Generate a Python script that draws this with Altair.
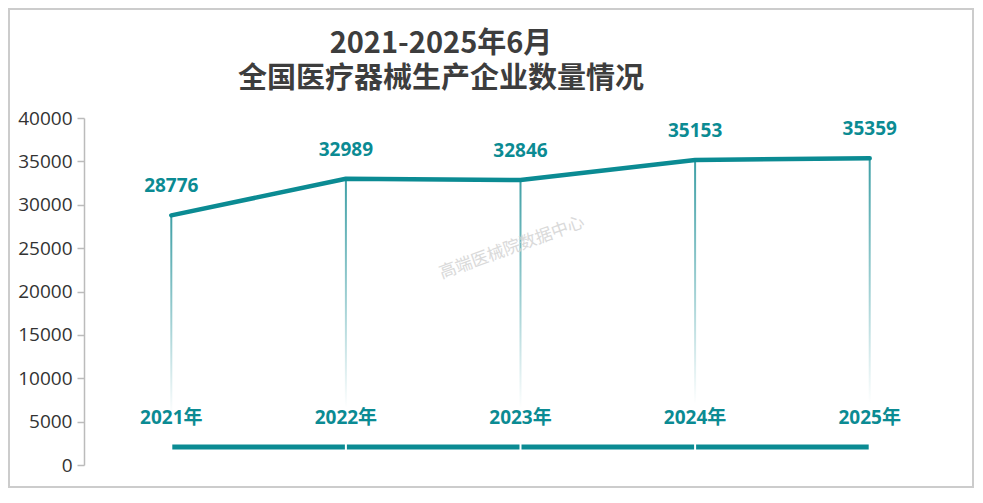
import altair as alt
import pandas as pd

years = [2021, 2022, 2023, 2024, 2025]
year_labels = ["2021年", "2022年", "2023年", "2024年", "2025年"]
counts = [28776, 32989, 32846, 35153, 35359]
title_lines = ["2021-2025年6月", "全国医疗器械生产企业数量情况"]
watermark = "高端医械院数据中心"
y_ticks = [0, 5000, 10000, 15000, 20000, 25000, 30000, 35000, 40000]
base_bar_value = 2075

TEAL = "#0b8b93"
FONT = "Open Sans, Noto Sans CJK SC, sans-serif"

df = pd.DataFrame({"year": years, "label": year_labels, "count": counts})
seg = pd.DataFrame({"year": years[:-1], "next": years[1:]})

W, H = 873, 347
PL, PT, PR, PB = 76, 110, 17, 23

xscale = alt.Scale(domain=[2020.5, 2025.5], nice=False, zero=False, padding=0)
xenc = alt.X("year:Q", axis=None, scale=xscale)
yscale = alt.Scale(domain=[0, 40000], nice=False)

base = alt.Chart(df)

border = alt.Chart(pd.DataFrame({"a": [0]})).mark_rect(
    fill="transparent", stroke="#cccccc", strokeWidth=2
).encode(
    x=alt.value(-PL + 1), x2=alt.value(W + PR - 1),
    y=alt.value(-PT + 1), y2=alt.value(H + PB - 1),
)

bottom = alt.Chart(seg).mark_rule(color=TEAL, strokeWidth=5).encode(
    x=xenc,
    x2="next:Q",
    y=alt.datum(base_bar_value, scale=yscale),
)

vbars = base.mark_bar(
    size=2,
    color=alt.LinearGradient(
        gradient="linear", x1=0, y1=0, x2=0, y2=1,
        stops=[
            alt.GradientStop(offset=0, color="#3d9fa5"),
            alt.GradientStop(offset=0.45, color="#a6d3d6"),
            alt.GradientStop(offset=0.8, color="#ffffff"),
            alt.GradientStop(offset=1, color="#ffffff"),
        ],
    ),
).encode(
    x=xenc,
    y=alt.Y("count:Q", scale=yscale, title=None,
            axis=alt.Axis(values=y_ticks, format="d", grid=False, labelFontSize=19,
                          labelColor="#333333", labelFont=FONT, labelPadding=5, tickSize=7,
                          tickColor="#bbbbbb", domainColor="#bbbbbb", domainWidth=1.5,
                          tickWidth=1.5)),
    y2=alt.datum(0),
)

line = base.mark_line(color=TEAL, strokeWidth=4.5, strokeCap="round", strokeJoin="round").encode(
    x=xenc, y=alt.Y("count:Q", scale=yscale)
)

vlabels = base.mark_text(color=TEAL, fontSize=19, fontWeight="bold", font=FONT, dy=-29).encode(
    x=xenc, y=alt.Y("count:Q", scale=yscale), text="count:Q"
)

ylabels = base.mark_text(color=TEAL, fontSize=19, fontWeight="bold", font=FONT).encode(
    x=xenc, y=alt.value(300), text="label:N"
)

title1 = alt.Chart(pd.DataFrame({"t": [title_lines[0]]})).mark_text(
    color="#3d3d3d", fontSize=29, fontWeight="bold", font="Noto Sans CJK SC", baseline="middle"
).encode(x=alt.value(357), y=alt.value(-74), text="t:N")

title2 = alt.Chart(pd.DataFrame({"t": [title_lines[1]]})).mark_text(
    color="#3d3d3d", fontSize=29, fontWeight="bold", font="Noto Sans CJK SC", baseline="middle"
).encode(x=alt.value(357), y=alt.value(-39), text="t:N")

wm = alt.Chart(pd.DataFrame({"t": [watermark]})).mark_text(
    color="#d6d6d6", fontSize=17, angle=340, font="Noto Sans CJK SC", opacity=0.9
).encode(x=alt.value(428), y=alt.value(130), text="t:N")

chart = alt.layer(border, bottom, vbars, line, vlabels, ylabels, wm, title1, title2).properties(
    width=W, height=H,
    padding={"left": PL, "top": PT, "right": PR, "bottom": PB},
    autosize=alt.AutoSizeParams(type="none"),
).configure_view(stroke=None)

chart.save("out.html", embed_options={"renderer": "svg", "actions": False})
